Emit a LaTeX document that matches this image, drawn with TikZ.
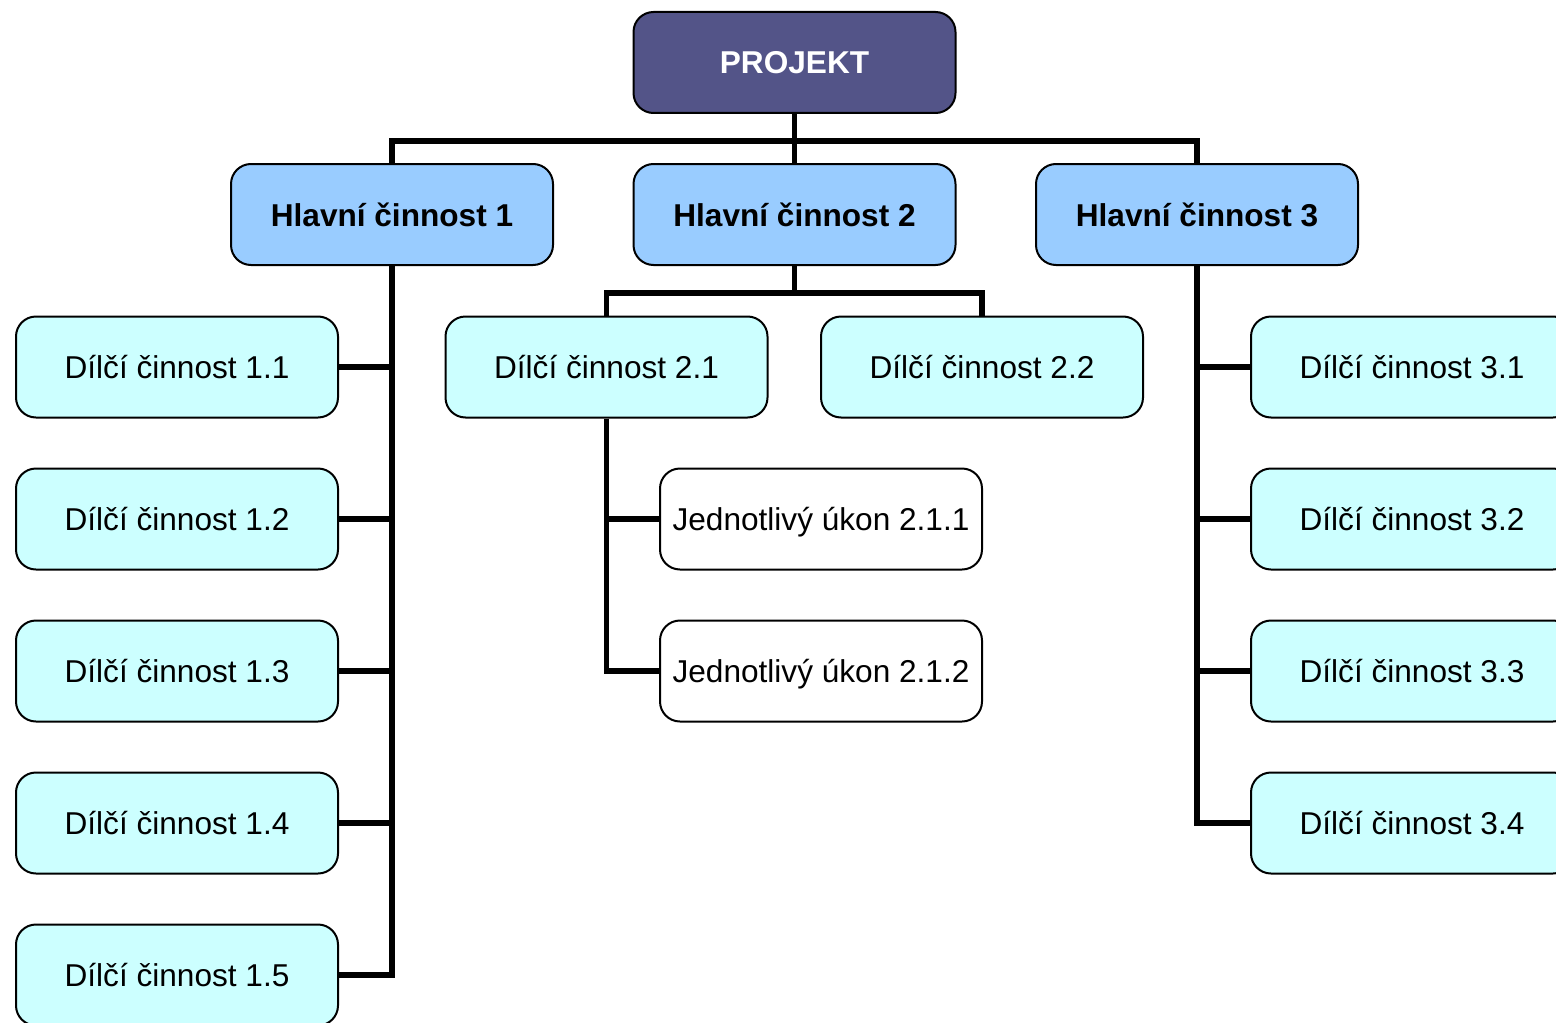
\documentclass[tikz,border=0pt]{standalone}
\usepackage{fontspec}
\setmainfont{Liberation Sans}
\definecolor{projfill}{HTML}{535488}
\definecolor{mainfill}{HTML}{99CCFF}
\definecolor{subfill}{HTML}{CCFFFF}
\begin{document}
\begin{tikzpicture}[x=0.5pt,y=0.5pt,yscale=-1,xscale=1,
  box/.style={draw=black,line width=1pt,rounded corners=10pt,minimum width=161pt,minimum height=50.5pt,inner sep=0pt,font=\fontsize{15.8}{19}\selectfont},
  projbox/.style={box,fill=projfill,text=white,font=\fontsize{15.8}{19}\selectfont\bfseries},
  mainbox/.style={box,fill=mainfill,font=\fontsize{15.8}{19}\selectfont\bfseries},
  subbox/.style={box,fill=subfill},
  taskbox/.style={box,fill=white,text depth=0pt},
  link/.style={line width=2.8pt}]
\path[use as bounding box,clip] (0,0) rectangle (1556,1022);
% Project
\node [projbox] (proj) at (794.5,62.5) {PROJEKT};
% Main activities
\node [mainbox] (h1) at (392,214.5) {Hlavní činnost 1};
\node [mainbox] (h2) at (794.5,214.5) {Hlavní činnost 2};
\node [mainbox] (h3) at (1197,214.5) {Hlavní činnost 3};
% Sub activities
\node [subbox] (d11) at (177,367) {Dílčí činnost 1.1};
\node [subbox] (d12) at (177,519) {Dílčí činnost 1.2};
\node [subbox] (d13) at (177,671) {Dílčí činnost 1.3};
\node [subbox] (d14) at (177,823) {Dílčí činnost 1.4};
\node [subbox] (d15) at (177,975) {Dílčí činnost 1.5};
\node [subbox] (d21) at (606.5,367) {Dílčí činnost 2.1};
\node [subbox] (d22) at (982,367) {Dílčí činnost 2.2};
\node [subbox] (d31) at (1412,367) {Dílčí činnost 3.1};
\node [subbox] (d32) at (1412,519) {Dílčí činnost 3.2};
\node [subbox] (d33) at (1412,671) {Dílčí činnost 3.3};
\node [subbox] (d34) at (1412,823) {Dílčí činnost 3.4};
% Single tasks
\node [taskbox] (u211) at (821,519) {Jednotlivý úkon 2.1.1};
\node [taskbox] (u212) at (821,671) {Jednotlivý úkon 2.1.2};
% Connectors
\draw [link] (proj.south) -- ++(0,27) -| (h1.north);
\draw [link] (proj.south) -- ++(0,27) -| (h3.north);
\draw [link] (proj.south) -- (h2.north);
\foreach \i in {1,...,5}
  \draw [link] (h1.south) |- (d1\i.east);
\draw [link] (h2.south) -- ++(0,27) -| (d21.north);
\draw [link] (h2.south) -- ++(0,27) -| (d22.north);
\draw [link] (d21.south) |- (u211.west);
\draw [link] (d21.south) |- (u212.west);
\foreach \i in {1,...,4}
  \draw [link] (h3.south) |- (d3\i.west);
\end{tikzpicture}
\end{document}
